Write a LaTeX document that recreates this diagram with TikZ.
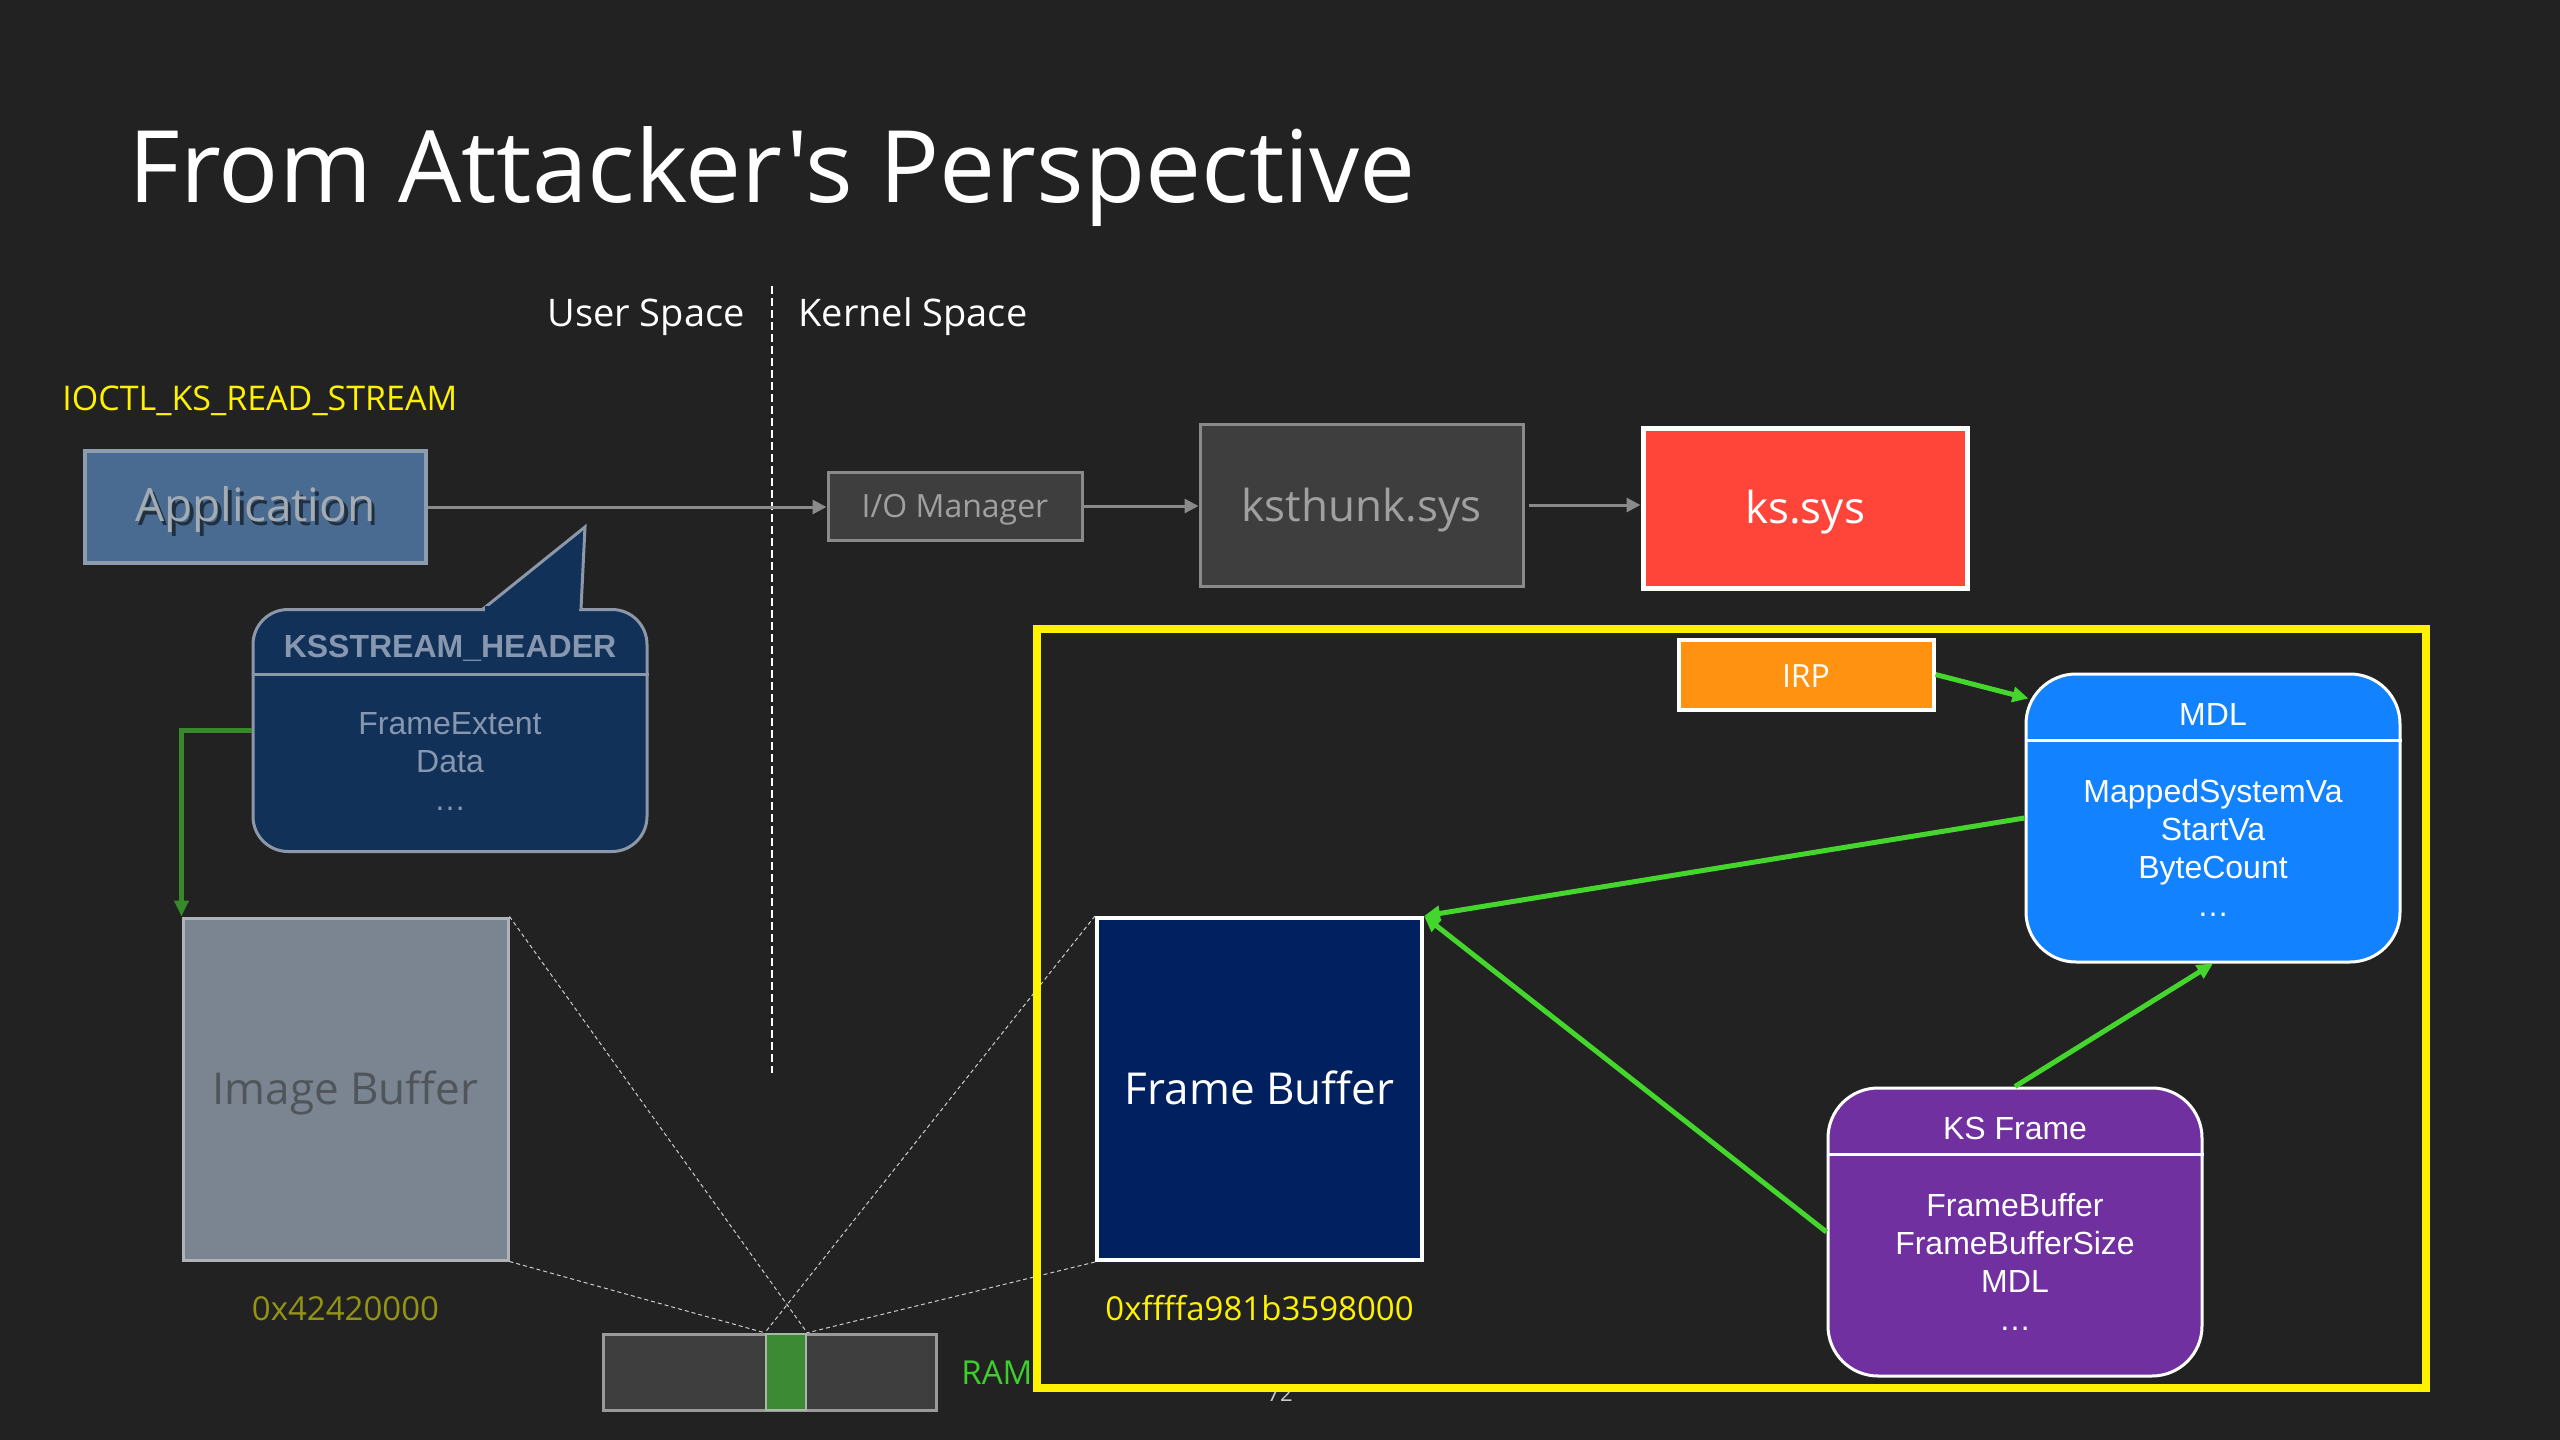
\documentclass[tikz,border=0pt]{standalone}
\usepackage{fontspec}
\setmainfont{Open Sans}
\newfontfamily\plainsans{Open Sans}
\newfontfamily\arialfont{Liberation Sans}
\usetikzlibrary{arrows.meta,calc}
\definecolor{bgc}{HTML}{222222}
\definecolor{appfill}{HTML}{4A6B91}
\definecolor{appdraw}{HTML}{8E9CB0}
\definecolor{apptext}{HTML}{A3ABB3}
\definecolor{darkbox}{HTML}{3E3E3E}
\definecolor{midgray}{HTML}{8A8A8A}
\definecolor{boxtext}{HTML}{A0A0A0}
\definecolor{ksred}{HTML}{FF4539}
\definecolor{bubfill}{HTML}{123158}
\definecolor{bubdraw}{HTML}{8C97A8}
\definecolor{bubtext}{HTML}{8797AF}
\definecolor{imgfill}{HTML}{7A8591}
\definecolor{imgdraw}{HTML}{B0B3B6}
\definecolor{imgtext}{HTML}{50555B}
\definecolor{addrolive}{HTML}{939314}
\definecolor{ramgreen}{HTML}{3D8A35}
\definecolor{ramdraw}{HTML}{9A9A9A}
\definecolor{slotdraw}{HTML}{A8B8A8}
\definecolor{ramlabel}{HTML}{3FCF2C}
\definecolor{fbfill}{HTML}{002060}
\definecolor{irpfill}{HTML}{FF9210}
\definecolor{mdlfill}{HTML}{1282FF}
\definecolor{ksffill}{HTML}{7030A0}
\definecolor{brightgreen}{HTML}{44D62C}
\definecolor{elbowgreen}{HTML}{38892A}
\definecolor{pagegray}{HTML}{C8C8C8}
\begin{document}
\begin{tikzpicture}[x=0.5pt,y=-0.5pt,
  box/.style={draw, line width=1.5pt, inner sep=0pt},
  txt/.style={inner sep=0pt},
  f16/.style={font=\fontsize{16pt}{19pt}\selectfont},
  f17/.style={font=\fontsize{17pt}{20pt}\selectfont},
  f19/.style={font=\fontsize{19pt}{23pt}\selectfont},
  f22/.style={font=\fontsize{22pt}{26pt}\selectfont},
  f23/.style={font=\fontsize{23pt}{27pt}\selectfont},
  a16/.style={font=\arialfont\fontsize{16pt}{19pt}\selectfont},
  recbox/.style={draw=white, line width=1.5pt, inner sep=0pt, rounded corners=25pt,
    minimum width=187pt, minimum height=144pt},
  greyarrow/.style={draw=midgray, line width=1.5pt, -{Triangle[length=7pt,width=7pt]}},
  grnarrow/.style={draw=brightgreen, line width=2.5pt, -{Triangle[length=8pt,width=7.5pt]}},
  mapline/.style={draw=white!80!black, line width=0.5pt, dash pattern=on 2pt off 1.5pt}]
\fill[bgc] (0,0) rectangle (2560,1440);
\useasboundingbox (0,0) rectangle (2560,1440);

% title
\node[txt, anchor=base west, text=white, font=\plainsans\fontsize{50pt}{60pt}\selectfont] (title) at (128,202) {From Attacker's Perspective};

% user / kernel
\node[txt, anchor=base east, text=white, f19] (userspace) at (745,326) {User Space};
\node[txt, anchor=base west, text=white, f19] (kernelspace) at (798,326) {Kernel Space};
\coordinate (dtop) at (772,286);
\coordinate (dbot) at (772,1073);
\draw[white, line width=1pt, dash pattern=on 4pt off 2pt] (dtop) -- (dbot);

\node[txt, anchor=base west, text=yellow, f17] (ioctl) at (62,410) {IOCTL\_KS\_READ\_STREAM};

% top row
\node[box, draw=appdraw, fill=appfill, line width=2pt, minimum width=170.5pt, minimum height=56pt] (app) at (255.5,507) {};
\node[txt, anchor=base, text=black, opacity=0.55, f23] (appshadow) at (259,525) {Application};
\node[txt, anchor=base, text=apptext, f23] (apptxt) at (255.5,521) {Application};
\node[box, draw=midgray, fill=darkbox, minimum width=127pt, minimum height=34pt] (io) at (955,506) {};
\node[txt, anchor=base, text=boxtext, f16] (iotxt) at (955,517) {I/O Manager};
\node[box, draw=midgray, fill=darkbox, minimum width=161.5pt, minimum height=81pt] (kst) at (1361.5,505) {};
\node[txt, anchor=base, text=boxtext, f22] (ksttxt) at (1361.5,521) {ksthunk.sys};
\node[box, draw=white, line width=2.5pt, fill=ksred, minimum width=162pt, minimum height=80pt] (kss) at (1805,508) {};
\node[txt, anchor=base, text=white, f22] (ksstxt) at (1805,523) {ks.sys};
\draw[greyarrow] (app.east) -- (app.east -| io.west);
\draw[greyarrow] (io.east) -- (io.east -| kst.west);
\draw[greyarrow, shorten <=2pt] (kst.east) -- (kst.east -| kss.west);

% bubble
\node[draw=bubdraw, fill=bubfill, line width=1.5pt, rounded corners=17.5pt, inner sep=0pt,
  minimum width=197pt, minimum height=121pt] (hdr) at (450,730.5) {};
\coordinate (tailL) at (483,609);
\coordinate (tailTip) at (585,527);
\coordinate (tailR) at (581,609);
\filldraw[fill=bubfill, draw=bubdraw, line width=1.5pt, line join=miter] (tailL) -- (tailTip) -- (tailR);
\fill[bubfill] (485,605.5) rectangle (579,613);
\draw[bubdraw, line width=1.5pt] ($(hdr.north west)+(0,66)$) -- ($(hdr.north east)+(0,66)$);
\node[txt, anchor=base, text=bubtext, font=\arialfont\bfseries\fontsize{16pt}{19pt}\selectfont] (hdrtitle) at (450,657) {KSSTREAM\_HEADER};
\node[txt, anchor=base, text=bubtext, a16] (hdr1) at (450,734) {FrameExtent};
\node[txt, anchor=base, text=bubtext, a16] (hdr2) at (450,772) {Data};
\node[txt, anchor=base, text=bubtext, a16] (hdr3) at (450,810) {…};

% image buffer
\node[box, draw=imgdraw, fill=imgfill, minimum width=162.5pt, minimum height=171pt] (img) at (345.5,1089) {};
\node[txt, anchor=base, text=imgtext, f22] (imgtxt) at (345.5,1104) {Image Buffer};
\draw[elbowgreen, line width=2.5pt, -{Triangle[length=8pt,width=7pt]}] (hdr.west) -| (img.north west);
\node[txt, anchor=base, text=addrolive, font=\fontsize{16.5pt}{20pt}\selectfont] (addr1) at (345.5,1320) {0x42420000};

% RAM
\node[box, draw=ramdraw, fill=darkbox, minimum width=166.5pt, minimum height=38pt] (ram) at (769.5,1372) {};
\node[box, draw=slotdraw, line width=1.2pt, fill=ramgreen, minimum width=20pt, minimum height=38pt] (slot) at (786,1372) {};
\node[txt, anchor=base west, text=ramlabel, font=\fontsize{16.5pt}{20pt}\selectfont] (ramlbl) at (961,1384) {RAM};
\node[txt, anchor=base, text=pagegray, font=\fontsize{11pt}{13pt}\selectfont] (pagenum) at (1280,1401) {72};

% frame buffer
\node[box, draw=white, line width=2pt, fill=fbfill, minimum width=162.5pt, minimum height=171pt] (fb) at (1259.5,1089) {};
\node[txt, anchor=base, text=white, f22] (fbtxt) at (1259.5,1104) {Frame Buffer};
\node[txt, anchor=base, text=yellow, font=\fontsize{16.5pt}{20pt}\selectfont] (addr2) at (1259.5,1320) {0xffffa981b3598000};

% mapping lines
\draw[mapline] (img.north east) -- (slot.north east);
\draw[mapline] (img.south east) -- (slot.north west);
\draw[mapline] (fb.north west) -- (slot.north west);
\draw[mapline] (fb.south west) -- (slot.north east);

% kernel zone
\node[draw=yellow, line width=4pt, inner sep=0pt, minimum width=694.5pt, minimum height=379.5pt] (zone) at (1731.5,1008.5) {};

\node[box, draw=white, line width=2pt, fill=irpfill, minimum width=127.5pt, minimum height=35pt] (irp) at (1806,674.5) {};
\node[txt, anchor=base, text=white, f16] (irptxt) at (1806,687) {IRP};

% MDL
\node[recbox, fill=mdlfill] (mdl) at (2213,818) {};
\draw[white, line width=1.5pt] ($(mdl.north west)+(0,68)$) -- ($(mdl.north east)+(0,68)$);
\node[txt, anchor=base, text=white, a16] (mdlt) at (2213,725) {MDL};
\node[txt, anchor=base, text=white, a16] (mdl1) at (2213,802) {MappedSystemVa};
\node[txt, anchor=base, text=white, a16] (mdl2) at (2213,840) {StartVa};
\node[txt, anchor=base, text=white, a16] (mdl3) at (2213,878) {ByteCount};
\node[txt, anchor=base, text=white, a16] (mdl4) at (2213,916) {…};

% KS Frame
\node[recbox, fill=ksffill] (ksf) at (2015,1232) {};
\draw[white, line width=1.5pt] ($(ksf.north west)+(0,68)$) -- ($(ksf.north east)+(0,68)$);
\node[txt, anchor=base, text=white, a16] (ksft) at (2015,1139) {KS Frame};
\node[txt, anchor=base, text=white, a16] (ksf1) at (2015,1216) {FrameBuffer};
\node[txt, anchor=base, text=white, a16] (ksf2) at (2015,1254) {FrameBufferSize};
\node[txt, anchor=base, text=white, a16] (ksf3) at (2015,1292) {MDL};
\node[txt, anchor=base, text=white, a16] (ksf4) at (2015,1330) {…};

% green arrows
\draw[grnarrow] (irp.east) -- ($(mdl.north west)+(4,26)$);
\draw[grnarrow] (mdl.west) -- (fb.north east);
\draw[grnarrow] (ksf.west) -- (fb.north east);
\draw[grnarrow] (ksf.north) -- (mdl.south);
\end{tikzpicture}
\end{document}
